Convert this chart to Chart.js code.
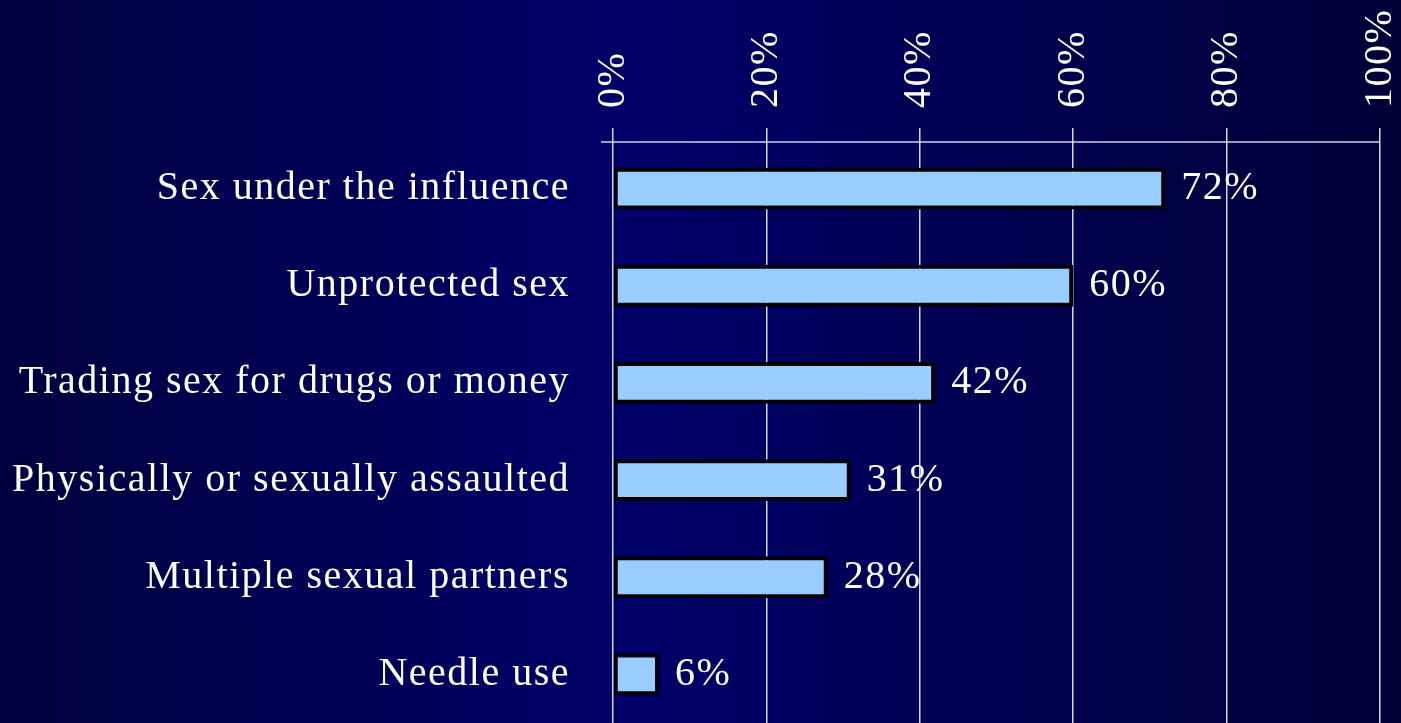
<!DOCTYPE html>
<html>
<head>
<meta charset="utf-8">
<title>Risk behaviours</title>
<script src="https://cdn.jsdelivr.net/npm/chart.js@4/dist/chart.umd.min.js"></script>
<style>
  html, body { margin: 0; padding: 0; background: #000050; overflow: hidden; }
  canvas { display: block; }
</style>
</head>
<body>
<canvas id="riskChart" width="1401" height="723"></canvas>
<script>
// chart data
const categories = [
    "Sex under the influence",
    "Unprotected sex",
    "Trading sex for drugs or money",
    "Physically or sexually assaulted",
    "Multiple sexual partners",
    "Needle use"
];
const percentages = [72, 60, 42, 31, 28, 6];
const axisTicks = [0, 20, 40, 60, 80, 100];

const serif = '"Liberation Serif", "Times New Roman", serif';

// dark blue slide background, lighter in the middle
const backgroundPlugin = {
    id: 'slideBackground',
    beforeDraw(chart) {
        const ctx = chart.ctx;
        const w = chart.width, h = chart.height;
        const grad = ctx.createLinearGradient(0, 0, w, 0);
        grad.addColorStop(0, '#00003e');
        grad.addColorStop(0.45, '#000069');
        grad.addColorStop(1, '#000036');
        ctx.save();
        ctx.fillStyle = grad;
        ctx.fillRect(0, 0, w, h);
        ctx.restore();
        ctx.letterSpacing = '1.5px';
    }
};

// top axis line, reaching a bit left of the 0% gridline
const axisLinePlugin = {
    id: 'axisLine',
    afterDraw(chart) {
        const { ctx, chartArea } = chart;
        const y = chartArea.top + 2;
        ctx.save();
        ctx.strokeStyle = 'rgba(230,230,255,0.9)';
        ctx.lineWidth = 1.5;
        ctx.beginPath();
        ctx.moveTo(chartArea.left - 12, y);
        ctx.lineTo(chartArea.right, y);
        ctx.stroke();
        ctx.restore();
    }
};

// value labels to the right of each bar
const valueLabelPlugin = {
    id: 'valueLabels',
    afterDatasetsDraw(chart) {
        const ctx = chart.ctx;
        const meta = chart.getDatasetMeta(0);
        ctx.save();
        ctx.font = '40px ' + serif;
        ctx.fillStyle = '#ffffff';
        ctx.textAlign = 'left';
        ctx.textBaseline = 'middle';
        ctx.letterSpacing = '1.5px';
        meta.data.forEach((bar, i) => {
            ctx.fillText(percentages[i] + '%', bar.x + 16, bar.y);
        });
        ctx.restore();
    }
};

const ctx = document.getElementById('riskChart').getContext('2d');
const chart = new Chart(ctx, {
    type: 'bar',
    data: {
        labels: categories,
        datasets: [{
            data: percentages,
            backgroundColor: '#99ccff',
            borderColor: '#000000',
            borderWidth: 4,
            borderSkipped: false,
            barPercentage: 0.43,
            categoryPercentage: 1
        }]
    },
    options: {
        indexAxis: 'y',
        responsive: false,
        animation: false,
        devicePixelRatio: 1,
        layout: { padding: { left: 0, right: 21, top: 0, bottom: 0 } },
        plugins: {
            legend: { display: false },
            tooltip: { enabled: false }
        },
        scales: {
            x: {
                position: 'top',
                min: 0,
                max: 100,
                afterBuildTicks(scale) {
                    scale.ticks = axisTicks.map(v => ({ value: v }));
                },
                afterFit(scale) { scale.height = 140; },
                ticks: {
                    color: '#ffffff',
                    font: { size: 40, family: serif },
                    minRotation: 90,
                    maxRotation: 90,
                    padding: 20,
                    labelOffset: 48,
                    callback: v => v + '%'
                },
                grid: {
                    color: 'rgba(235,235,255,0.9)',
                    lineWidth: 1.5,
                    drawTicks: true,
                    tickLength: 12
                },
                border: { display: false }
            },
            y: {
                afterFit(scale) {
                    scale.width = 613;
                    // the label padding should not shrink the plot vertically
                    scale.paddingTop = 0;
                    scale.paddingBottom = 0;
                },
                ticks: {
                    color: '#ffffff',
                    font: { size: 40, family: serif },
                    padding: 43
                },
                grid: { display: false, drawTicks: false },
                border: { display: false }
            }
        }
    },
    plugins: [backgroundPlugin, axisLinePlugin, valueLabelPlugin]
});
</script>
</body>
</html>
